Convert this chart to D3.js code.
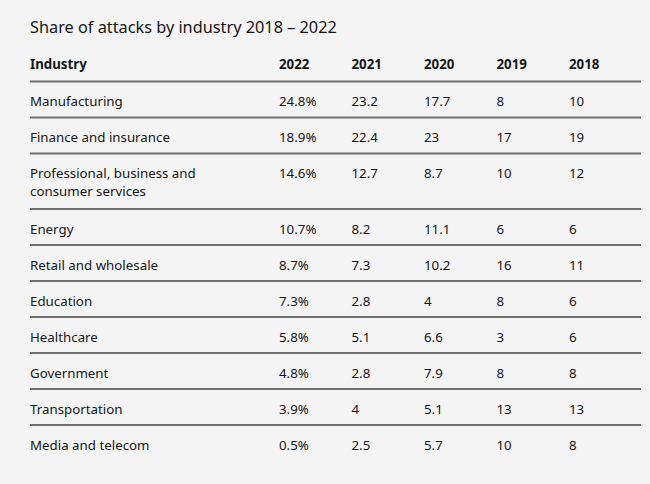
<!DOCTYPE html>
<html><head><meta charset="utf-8">
<script src="https://cdn.jsdelivr.net/npm/d3@7/dist/d3.min.js"></script>
<style>
html,body{margin:0;padding:0;background:#f4f4f4;}
svg{display:block;}
text{font-family:"Noto Sans","Open Sans",sans-serif;fill:#161616;}
</style></head>
<body>
<script>
const title = "Share of attacks by industry 2018 – 2022";
const years = ["2022","2021","2020","2019","2018"];
const industries = [
  ["Manufacturing"],
  ["Finance and insurance"],
  ["Professional, business and","consumer services"],
  ["Energy"],
  ["Retail and wholesale"],
  ["Education"],
  ["Healthcare"],
  ["Government"],
  ["Transportation"],
  ["Media and telecom"]
];
const v2022 = ["24.8%","18.9%","14.6%","10.7%","8.7%","7.3%","5.8%","4.8%","3.9%","0.5%"];
const v2021 = ["23.2","22.4","12.7","8.2","7.3","2.8","5.1","2.8","4","2.5"];
const v2020 = ["17.7","23","8.7","11.1","10.2","4","6.6","7.9","5.1","5.7"];
const v2019 = ["8","17","10","6","16","8","3","8","13","10"];
const v2018 = ["10","19","12","6","11","6","6","8","13","8"];
const series = [v2022,v2021,v2020,v2019,v2018];

const W=650,H=484;
const svg=d3.select("body").append("svg").attr("width",W).attr("height",H);
svg.append("rect").attr("width",W).attr("height",H).attr("fill","#f4f4f4");

const left=30,right=641;
const colX = d3.scalePoint().domain(years).range([279,569]);

svg.append("text").attr("x",left).attr("y",33).attr("font-size",16.3).text(title);

// header
const headerBase=69, fs=13.3;
svg.append("text").attr("x",left).attr("y",headerBase).attr("font-size",fs).attr("font-weight","bold").text("Industry");
svg.selectAll("text.yr").data(years).join("text").attr("class","yr")
  .attr("x",d=>colX(d)).attr("y",headerBase).attr("font-size",fs).attr("font-weight","bold").text(d=>d);

const headerLine=81.5, rowH=36, lineH=18;
let y=headerLine;
const rows=industries.map((lines,i)=>{
  const h=rowH+(lines.length-1)*19.5;
  const r={i,lines,top:y,h};
  y+=h;
  return r;
});

svg.append("line").attr("x1",left).attr("x2",right).attr("y1",headerLine).attr("y2",headerLine)
  .attr("stroke","#6f6f6f").attr("stroke-width",2);

const g=svg.selectAll("g.row").data(rows).join("g").attr("class","row")
  .attr("transform",d=>`translate(0,${d.top})`);
g.filter(d=>d.i<rows.length-1).append("line").attr("x1",left).attr("x2",right)
  .attr("y1",d=>d.h).attr("y2",d=>d.h).attr("stroke","#6f6f6f").attr("stroke-width",2);
g.each(function(d){
  const gg=d3.select(this);
  d.lines.forEach((t,k)=>{
    gg.append("text").attr("x",left).attr("y",24.5+k*lineH).attr("font-size",fs).text(t);
  });
  series.forEach((s,j)=>{
    gg.append("text").attr("x",colX(years[j])).attr("y",24.5).attr("font-size",fs).text(s[d.i]);
  });
});
</script>
</body></html>
